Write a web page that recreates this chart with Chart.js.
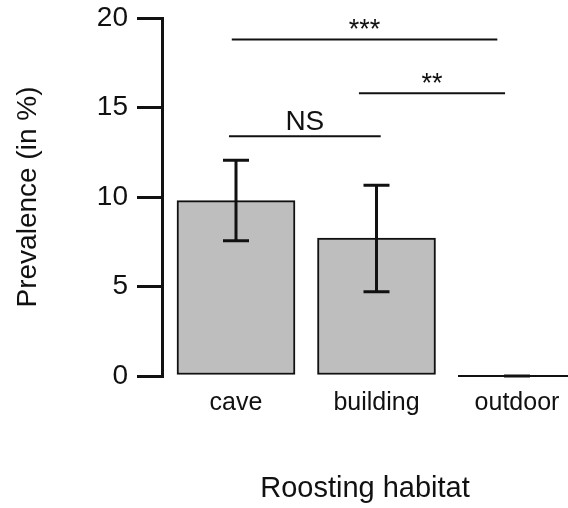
<!DOCTYPE html>
<html>
<head>
<meta charset="utf-8">
<script src="https://cdn.jsdelivr.net/npm/chart.js@4/dist/chart.umd.min.js"></script>
<style>
  html, body { margin: 0; padding: 0; background: #fff; }
  #wrap { width: 568px; height: 508px; position: relative; }
</style>
</head>
<body>
<div id="wrap"><canvas id="c"></canvas></div>
<script>
// ---- data ----
const categories = ["cave", "building", "outdoor"];
const prevalence = [9.8, 7.7, 0];
const errLow = [7.55, 4.7, 0];
const errHigh = [12.05, 10.65, 0];
const yTicks = [0, 5, 10, 15, 20];
// significance brackets (x in category-index units, y in %)
const sigFrom = [-0.03, 0.875, -0.05];
const sigTo = [1.86, 1.915, 1.03];
const sigY = [18.8, 15.8, 13.4];
const sigLabel = ["***", "**", "NS"];

const FONT = "'Liberation Sans', Arial, sans-serif";
const INK = "#111";

const overlay = {
  id: "overlay",
  afterDatasetsDraw(chart) {
    const ctx = chart.ctx;
    const xs = chart.scales.x, ys = chart.scales.y;
    const meta = chart.getDatasetMeta(0);
    ctx.save();
    // zero-height bars drawn as baseline outline
    meta.data.forEach((bar, i) => {
      if (prevalence[i] === 0) {
        const y0 = ys.getPixelForValue(0);
        ctx.strokeStyle = INK; ctx.lineWidth = 2;
        ctx.beginPath();
        ctx.moveTo(bar.x - bar.width / 2, y0);
        ctx.lineTo(bar.x + bar.width / 2, y0);
        ctx.stroke();
      }
    });
    // error bars
    ctx.strokeStyle = INK; ctx.lineWidth = 3; ctx.lineCap = "butt";
    const cap = 13;
    meta.data.forEach((bar, i) => {
      const x = bar.x;
      const yl = ys.getPixelForValue(errLow[i]);
      const yh = ys.getPixelForValue(errHigh[i]);
      ctx.beginPath();
      ctx.moveTo(x, yl); ctx.lineTo(x, yh);
      ctx.moveTo(x - cap, yh); ctx.lineTo(x + cap, yh);
      ctx.moveTo(x - cap, yl); ctx.lineTo(x + cap, yl);
      ctx.stroke();
    });
    // significance lines
    sigLabel.forEach((lab, i) => {
      const x1 = xs.getPixelForValue(sigFrom[i]);
      const x2 = xs.getPixelForValue(sigTo[i]);
      const y = ys.getPixelForValue(sigY[i]);
      ctx.strokeStyle = INK; ctx.lineWidth = 2;
      ctx.beginPath(); ctx.moveTo(x1, y); ctx.lineTo(x2, y); ctx.stroke();
      ctx.fillStyle = INK;
      ctx.textAlign = "center";
      ctx.textBaseline = "alphabetic";
      if (lab === "NS") {
        ctx.font = "28px " + FONT;
        ctx.fillText(lab, (x1 + x2) / 2, y - 6);
      } else {
        ctx.font = "27px " + FONT;
        ctx.fillText(lab, (x1 + x2) / 2, y - 1);
      }
    });
    ctx.restore();
  }
};

new Chart(document.getElementById("c"), {
  type: "bar",
  data: {
    datasets: [{
      data: prevalence.map((v, i) => ({ x: i, y: v })),
      backgroundColor: "#bebebe",
      borderColor: INK,
      borderWidth: 2,
      borderSkipped: false,
      barThickness: 118
    }]
  },
  options: {
    responsive: true,
    maintainAspectRatio: false,
    animation: false,
    layout: { padding: { top: 18, right: 0, bottom: 0, left: 0 } },
    plugins: { legend: { display: false }, tooltip: { enabled: false } },
    scales: {
      x: {
        type: "linear",
        offset: false,
        min: -0.5267,
        max: 2.363,
        afterBuildTicks(scale) { scale.ticks = categories.map((c, i) => ({ value: i })); },
        afterFit(scale) { scale.height = 132; scale.paddingLeft = 0; scale.paddingRight = 0; },
        ticks: {
          autoSkip: false,
          maxRotation: 0,
          padding: 12,
          color: INK,
          font: { family: FONT, size: 25 },
          callback: (v) => categories[v] ?? ""
        },
        grid: { display: false, drawTicks: false, offset: false },
        border: { display: false },
        title: {
          display: true,
          text: "Roosting habitat",
          color: INK,
          font: { family: FONT, size: 29 },
          padding: { top: 56, bottom: 2 }
        }
      },
      y: {
        min: 0,
        max: 20,
        afterBuildTicks(scale) { scale.ticks = yTicks.map(v => ({ value: v })); },
        afterFit(scale) { scale.width = 162; scale.paddingTop = 0; scale.paddingBottom = 0; },
        ticks: {
          padding: 9,
          color: INK,
          font: { family: FONT, size: 28 }
        },
        grid: {
          drawOnChartArea: false,
          drawTicks: true,
          tickLength: 25,
          color: INK,
          lineWidth: 3
        },
        border: { display: true, color: INK, width: 3 },
        title: {
          display: true,
          text: "Prevalence (in %)",
          color: INK,
          font: { family: FONT, size: 28 },
          padding: { top: 11, bottom: 0 }
        }
      }
    }
  },
  plugins: [overlay]
});
</script>
</body>
</html>
